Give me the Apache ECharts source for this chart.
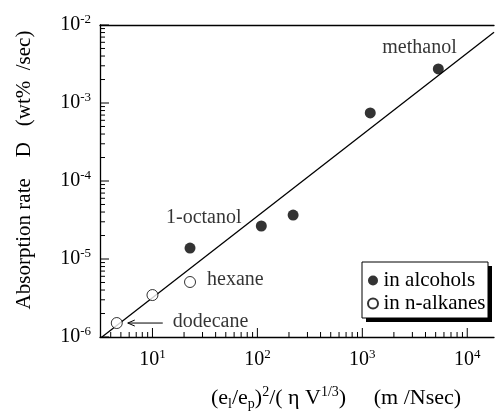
<!DOCTYPE html>
<html>
<head>
<meta charset="utf-8">
<script src="https://cdn.jsdelivr.net/npm/echarts@6/dist/echarts.min.js"></script>
<style>html,body{margin:0;padding:0;background:#fff}#c{width:497px;height:413px}</style>
</head>
<body>
<div id="c"></div>
<script>
// ---- data ----
const alcoholX = [22.8, 109, 219, 1190, 5300];
const alcoholY = [1.38e-5, 2.65e-5, 3.66e-5, 7.45e-4, 2.73e-3];
const alcoholNames = ['1-octanol', '', '', '', 'methanol'];
const alkaneX = [4.57, 10, 22.8];
const alkaneY = [1.51e-6, 3.45e-6, 5.07e-6];
const alkaneNames = ['dodecane', '', 'hexane'];
const fitX = [3.3, 18000];
const fitY = [1e-6, 8.1e-3];
const xMajorTicks = [10, 100, 1000, 10000];
const yMajorTicks = [1e-6, 1e-5, 1e-4, 1e-3, 1e-2];
const xMin = Math.pow(10, 0.5), xMax = Math.pow(10, 4.255);
const yMin = 1e-6, yMax = 1e-2;
const legendNames = ['in alcohols', 'in n-alkanes'];

const FONT = '"Liberation Serif", "Times New Roman", serif';

// minor ticks (2..9 x decade) within range
function minorTicks(lo, hi) {
  const out = [];
  for (let e = Math.floor(Math.log10(lo)); e <= Math.ceil(Math.log10(hi)); e++) {
    for (let k = 2; k <= 9; k++) {
      const v = k * Math.pow(10, e);
      if (v > lo * 1.0001 && v < hi * 0.9999) out.push(v);
    }
  }
  return out;
}
const xMinorTicks = minorTicks(xMin, xMax);
const yMinorTicks = minorTicks(yMin, yMax);

const tickData = [];
xMajorTicks.forEach(v => tickData.push([v, yMin, 0, 9]));
xMinorTicks.forEach(v => tickData.push([v, yMin, 0, 5]));
yMajorTicks.forEach(v => tickData.push([xMin, v, 1, 9]));
yMinorTicks.forEach(v => tickData.push([xMin, v, 1, 5]));

const labelOffsets = {
  '1-octanol': [-24, -30],
  'methanol': [-56, -21],
  'hexane': [17, -2],
  'dodecane': [56, -1]
};
function mkData(xs, ys, names) {
  return xs.map((x, i) => {
    const d = { value: [x, ys[i]] };
    if (names[i]) {
      d.label = {
        show: true, formatter: names[i], position: 'inside', align: 'left',
        verticalAlign: 'middle', offset: labelOffsets[names[i]],
        color: '#000', fontSize: 20, fontFamily: FONT
      };
    }
    return d;
  });
}

const richLabel = {
  b: { fontSize: 20, fontFamily: FONT, color: '#000', lineHeight: 24, verticalAlign: 'middle' },
  s: { fontSize: 13, fontFamily: FONT, color: '#000', verticalAlign: 'top' }
};
function powLabel(v) {
  const e = Math.log10(v);
  const r = Math.round(e);
  if (Math.abs(e - r) > 1e-6) return '';
  return '{b|10}{s|' + (r < 0 ? '-' + (-r) : r) + '}';
}

const chart = echarts.init(document.getElementById('c'), null, { renderer: 'canvas' });
chart.setOption({
  animation: false,
  backgroundColor: '#fff',
  grid: { left: 100, top: 25, right: 0, bottom: 76, containLabel: false },
  xAxis: [{
    type: 'log', logBase: 10, min: xMin, max: xMax,
    axisLine: { show: true, onZero: false, lineStyle: { color: '#000', width: 1.3 } },
    axisTick: { show: false }, splitLine: { show: false }, minorTick: { show: false },
    axisLabel: { margin: 11, formatter: powLabel, rich: richLabel, showMinLabel: true, showMaxLabel: true }
  }, {
    type: 'value', position: 'top', min: 0, max: 1,
    axisLine: { show: true, lineStyle: { color: '#000', width: 1.3 } },
    axisTick: { show: false }, axisLabel: { show: false }, splitLine: { show: false }
  }],
  yAxis: {
    type: 'log', logBase: 10, min: yMin, max: yMax,
    axisLine: { show: true, onZero: false, lineStyle: { color: '#000', width: 1.3 } },
    axisTick: { show: false }, splitLine: { show: false },
    axisLabel: { margin: 9, formatter: powLabel, rich: richLabel }
  },
  legend: {
    orient: 'vertical', left: 367, top: 270, z: 20,
    data: legendNames,
    icon: 'circle', itemWidth: 11, itemHeight: 10, itemGap: 2,
    padding: 0,
    textStyle: { fontSize: 21, fontFamily: FONT, color: '#000' }
  },
  series: [
    {
      type: 'line', data: fitX.map((x, i) => [x, fitY[i]]), symbol: 'none',
      lineStyle: { color: '#000', width: 1.3 }, silent: true, z: 2
    },
    {
      name: legendNames[0], type: 'scatter', data: mkData(alcoholX, alcoholY, alcoholNames),
      symbol: 'circle', symbolSize: 11, itemStyle: { color: '#000' }, z: 3
    },
    {
      name: legendNames[1], type: 'scatter', data: mkData(alkaneX, alkaneY, alkaneNames),
      symbol: 'circle', symbolSize: 11,
      itemStyle: { color: '#fff', borderColor: '#000', borderWidth: 1 }, z: 3
    },
    {
      type: 'custom', data: tickData, silent: true, clip: false, z: 4,
      renderItem: function (params, api) {
        const p = api.coord([api.value(0), api.value(1)]);
        const len = api.value(3);
        const vertical = api.value(2) === 0;
        return {
          type: 'line',
          shape: vertical ? { x1: p[0], y1: p[1], x2: p[0], y2: p[1] - len }
                          : { x1: p[0], y1: p[1], x2: p[0] + len, y2: p[1] },
          style: { stroke: '#000', lineWidth: 1 }
        };
      }
    }
  ]
});

// axis titles, legend box and arrow
const p0 = chart.convertToPixel({ gridIndex: 0 }, [alkaneX[0], alkaneY[0]]);
const ax = p0[0] + 11, ay = p0[1];
chart.setOption({
  graphic: [
    {
      type: 'text', x: 24, y: 170, rotation: Math.PI / 2,
      style: {
        text: 'Absorption rate    D   (wt%  /sec)', font: '21px ' + FONT,
        fill: '#000', align: 'center', verticalAlign: 'middle'
      }
    },
    {
      type: 'text', x: 336, y: 398,
      style: {
        text: '{m|(e}{d|l}{m|/e}{d|p}{m|)}{u|2}{m|/( η V}{u|1/3}{m|)     (m /Nsec)}',
        align: 'center', verticalAlign: 'middle',
        rich: {
          m: { fontSize: 22, fontFamily: FONT, fill: '#000', lineHeight: 26, verticalAlign: 'middle' },
          u: { fontSize: 14, fontFamily: FONT, fill: '#000', verticalAlign: 'top' },
          d: { fontSize: 14, fontFamily: FONT, fill: '#000', verticalAlign: 'bottom' }
        }
      }
    },
    {
      type: 'rect', z: 10, shape: { x: 366, y: 266, width: 126, height: 56 },
      style: { fill: '#000' }
    },
    {
      type: 'rect', z: 11, shape: { x: 362, y: 262, width: 126, height: 56 },
      style: { fill: '#fff', stroke: '#000', lineWidth: 1 }
    },
    {
      type: 'line', shape: { x1: ax, y1: ay, x2: ax + 35, y2: ay },
      style: { stroke: '#000', lineWidth: 1 }
    },
    {
      type: 'polyline', shape: { points: [[ax + 7, ay - 3], [ax, ay], [ax + 7, ay + 3]] },
      style: { stroke: '#000', lineWidth: 1, fill: null }
    }
  ]
});
</script>
</body>
</html>
